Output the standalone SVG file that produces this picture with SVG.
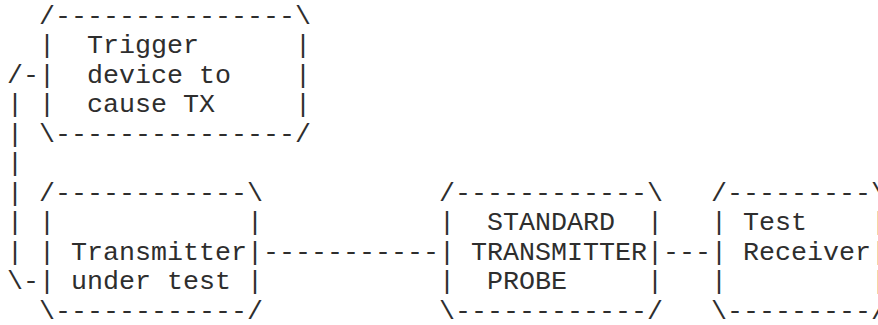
<svg xmlns="http://www.w3.org/2000/svg" width="878" height="325" viewBox="0 0 878 325">
  <style>
    text { font-family: "Liberation Mono", "Courier New", monospace; font-size: 26.667px; fill: #2e2e2e; }
  </style>
  <rect width="878" height="325" fill="#ffffff"/>
  <!-- character grid: column c at x = 7 + 16c, row r baseline at y = 23.5 + 29.5r -->

  <g id="trigger-device">
    <text x="39" y="23.5">/---------------\</text>
    <text x="39" y="53">|</text><text x="87" y="53">Trigger</text><text x="295" y="53">|</text>
    <text x="39" y="82.5">|</text><text x="87" y="82.5">device to</text><text x="295" y="82.5">|</text>
    <text x="39" y="112">|</text><text x="87" y="112">cause TX</text><text x="295" y="112">|</text>
    <text x="39" y="141.5">\---------------/</text>
  </g>

  <g id="transmitter-under-test">
    <text x="39" y="200.5">/------------\</text>
    <text x="39" y="230">|</text><text x="247" y="230">|</text>
    <text x="39" y="259.5">|</text><text x="71" y="259.5">Transmitter</text><text x="247" y="259.5">|</text>
    <text x="39" y="289">|</text><text x="71" y="289">under test</text><text x="247" y="289">|</text>
    <text x="39" y="318.5">\------------/</text>
  </g>

  <g id="standard-transmitter-probe">
    <text x="439" y="200.5">/------------\</text>
    <text x="439" y="230">|</text><text x="487" y="230">STANDARD</text><text x="647" y="230">|</text>
    <text x="439" y="259.5">|</text><text x="471" y="259.5">TRANSMITTER</text><text x="647" y="259.5">|</text>
    <text x="439" y="289">|</text><text x="487" y="289">PROBE</text><text x="647" y="289">|</text>
    <text x="439" y="318.5">\------------/</text>
  </g>

  <g id="test-receiver">
    <text x="711" y="200.5">/---------\</text>
    <text x="711" y="230">|</text><text x="743" y="230">Test</text><text x="871" y="230">|</text>
    <text x="711" y="259.5">|</text><text x="743" y="259.5">Receiver</text><text x="871" y="259.5">|</text>
    <text x="711" y="289">|</text><text x="871" y="289">|</text>
    <text x="711" y="318.5">\---------/</text>
  </g>

  <g id="connectors">
    <!-- trigger loop from the trigger device down to the transmitter -->
    <text x="7" y="82.5">/-</text>
    <text x="7" y="112">|</text>
    <text x="7" y="141.5">|</text>
    <text x="7" y="171">|</text>
    <text x="7" y="200.5">|</text>
    <text x="7" y="230">|</text>
    <text x="7" y="259.5">|</text>
    <text x="7" y="289">\-</text>
    <!-- signal path -->
    <text x="263" y="259.5">-----------</text>
    <text x="663" y="259.5">---</text>
  </g>
</svg>
